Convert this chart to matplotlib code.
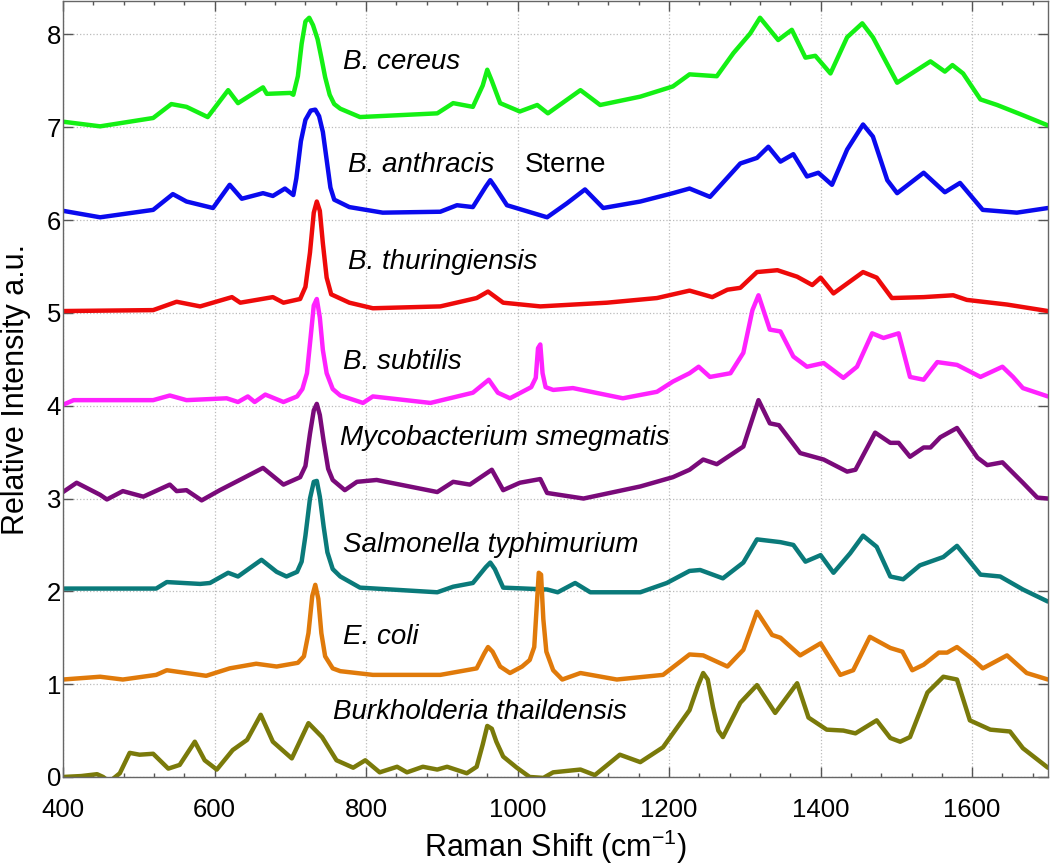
import matplotlib
matplotlib.use("Agg")
import matplotlib.pyplot as plt
from matplotlib.ticker import MultipleLocator

plt.rcParams['font.family'] = ['Liberation Sans', 'DejaVu Sans']
plt.rcParams['mathtext.fontset'] = 'custom'
plt.rcParams['mathtext.rm'] = 'Liberation Sans'
plt.rcParams['mathtext.it'] = 'Liberation Sans:italic'

# ---------------- data ----------------
cereus_x = [400, 449, 519, 543, 563, 591, 618, 631, 664, 669, 700, 704, 710, 715, 720, 725, 730, 736, 741,
            746, 752, 758, 766, 792, 894, 915, 941, 954, 960, 966, 977, 1003, 1026, 1040, 1083, 1109,
            1162, 1205, 1227, 1263, 1285, 1307, 1320, 1344, 1362, 1380, 1393, 1413, 1435, 1455, 1469,
            1501, 1545, 1564, 1574, 1588, 1611, 1633, 1667, 1700]
cereus_y = [7.06, 7.01, 7.10, 7.25, 7.22, 7.11, 7.40, 7.26, 7.43, 7.36, 7.37, 7.35, 7.55, 7.90, 8.14,
            8.18, 8.10, 7.95, 7.75, 7.54, 7.35, 7.25, 7.20, 7.11, 7.15, 7.26, 7.22, 7.45, 7.62, 7.50,
            7.26, 7.17, 7.24, 7.15, 7.40, 7.24, 7.33, 7.44, 7.57, 7.55, 7.80, 8.01, 8.18, 7.94, 8.05,
            7.75, 7.77, 7.58, 7.97, 8.12, 7.97, 7.48, 7.71, 7.60, 7.67, 7.58, 7.30, 7.24, 7.13, 7.02]

anthracis_x = [400, 449, 519, 545, 563, 598, 620, 636, 664, 677, 693, 704, 708, 714, 720, 727, 733, 738,
               743, 748, 753, 758, 778, 822, 898, 920, 941, 958, 964, 970, 986, 1039, 1065, 1089, 1113,
               1162, 1205, 1227, 1254, 1294, 1316, 1331, 1347, 1364, 1382, 1397, 1415, 1435, 1456, 1469,
               1488, 1501, 1536, 1564, 1584, 1614, 1659, 1700]
anthracis_y = [6.10, 6.03, 6.11, 6.28, 6.20, 6.13, 6.38, 6.23, 6.29, 6.26, 6.34, 6.27, 6.45, 6.85, 7.08,
               7.18, 7.19, 7.12, 6.95, 6.65, 6.35, 6.22, 6.14, 6.08, 6.09, 6.16, 6.14, 6.36, 6.43, 6.36,
               6.16, 6.03, 6.18, 6.33, 6.13, 6.20, 6.29, 6.34, 6.25, 6.61, 6.67, 6.79, 6.63, 6.71, 6.47,
               6.51, 6.38, 6.76, 7.03, 6.90, 6.43, 6.29, 6.51, 6.30, 6.40, 6.11, 6.08, 6.13]

thur_x = [400, 519, 550, 581, 623, 634, 677, 691, 713, 720, 726, 731, 735, 739, 743, 748, 754, 778, 809,
          898, 946, 961, 981, 1030, 1118, 1184, 1227, 1257, 1277, 1294, 1316, 1343, 1369, 1389, 1400,
          1417, 1456, 1474, 1494, 1536, 1575, 1593, 1646, 1700]
thur_y = [5.02, 5.03, 5.12, 5.07, 5.17, 5.11, 5.17, 5.11, 5.15, 5.28, 5.65, 6.08, 6.20, 6.10, 5.75, 5.38,
          5.20, 5.11, 5.05, 5.07, 5.16, 5.23, 5.11, 5.07, 5.11, 5.16, 5.24, 5.17, 5.25, 5.27, 5.44, 5.46,
          5.39, 5.30, 5.38, 5.21, 5.44, 5.38, 5.16, 5.17, 5.19, 5.14, 5.09, 5.02]

subtilis_x = [400, 414, 519, 541, 563, 616, 631, 644, 653, 667, 691, 709, 716, 722, 727, 731, 735, 739,
              743, 748, 756, 766, 796, 809, 885, 941, 962, 974, 990, 1018, 1024, 1027, 1030, 1033, 1037,
              1047, 1073, 1139, 1184, 1205, 1227, 1239, 1254, 1281, 1298, 1310, 1318, 1333, 1347, 1364,
              1382, 1404, 1430, 1448, 1468, 1483, 1503, 1518, 1536, 1554, 1580, 1611, 1640, 1654, 1667,
              1700]
subtilis_y = [4.01, 4.06, 4.06, 4.11, 4.06, 4.08, 4.04, 4.10, 4.04, 4.12, 4.04, 4.10, 4.18, 4.35, 4.75,
              5.08, 5.15, 4.95, 4.60, 4.35, 4.18, 4.11, 4.03, 4.10, 4.03, 4.14, 4.28, 4.14, 4.08, 4.20,
              4.30, 4.62, 4.66, 4.35, 4.20, 4.17, 4.19, 4.08, 4.15, 4.26, 4.35, 4.42, 4.31, 4.35, 4.57,
              5.03, 5.19, 4.82, 4.80, 4.53, 4.42, 4.46, 4.30, 4.42, 4.78, 4.73, 4.78, 4.31, 4.28, 4.47,
              4.44, 4.31, 4.42, 4.31, 4.19, 4.10]

smeg_x = [400, 418, 449, 458, 479, 506, 541, 550, 563, 583, 607, 638, 664, 691, 713, 720, 726, 731, 735,
          739, 744, 750, 756, 772, 788, 814, 894, 915, 937, 966, 981, 1003, 1030, 1039, 1087, 1162, 1205,
          1227, 1245, 1263, 1298, 1318, 1333, 1345, 1373, 1404, 1435, 1446, 1472, 1492, 1503, 1518, 1536,
          1545, 1558, 1580, 1607, 1620, 1640, 1667, 1686, 1700]
smeg_y = [3.07, 3.17, 3.04, 2.99, 3.08, 3.02, 3.15, 3.08, 3.09, 2.98, 3.09, 3.22, 3.33, 3.15, 3.23, 3.35,
          3.70, 3.95, 4.02, 3.90, 3.62, 3.32, 3.20, 3.09, 3.18, 3.20, 3.07, 3.18, 3.15, 3.31, 3.09, 3.17,
          3.21, 3.06, 3.00, 3.13, 3.23, 3.31, 3.42, 3.37, 3.56, 4.06, 3.81, 3.79, 3.49, 3.42, 3.29, 3.31,
          3.71, 3.60, 3.60, 3.45, 3.55, 3.55, 3.66, 3.76, 3.44, 3.36, 3.39, 3.17, 3.01, 3.00]

salm_x = [400, 449, 523, 537, 581, 594, 618, 631, 662, 682, 695, 709, 715, 720, 726, 731, 735, 739, 744,
          749, 756, 766, 792, 894, 915, 941, 958, 964, 970, 981, 1039, 1053, 1076, 1096, 1162, 1197,
          1227, 1241, 1271, 1298, 1316, 1347, 1364, 1380, 1400, 1417, 1439, 1456, 1474, 1492, 1509, 1531,
          1562, 1580, 1611, 1637, 1667, 1700]
salm_y = [2.03, 2.03, 2.03, 2.10, 2.08, 2.09, 2.20, 2.16, 2.34, 2.21, 2.16, 2.21, 2.32, 2.60, 3.00, 3.18,
          3.19, 3.02, 2.70, 2.42, 2.24, 2.16, 2.04, 1.99, 2.05, 2.09, 2.26, 2.31, 2.24, 2.04, 2.02, 1.99,
          2.09, 1.99, 1.99, 2.09, 2.22, 2.23, 2.14, 2.31, 2.56, 2.53, 2.50, 2.32, 2.39, 2.20, 2.41, 2.60,
          2.48, 2.16, 2.13, 2.28, 2.37, 2.49, 2.18, 2.16, 2.02, 1.89]

ecoli_x = [400, 449, 479, 523, 537, 563, 589, 620, 655, 682, 710, 718, 724, 729, 733, 737, 741, 746, 756,
           766, 809, 898, 946, 956, 961, 967, 977, 990, 1006, 1016, 1022, 1025, 1028, 1031, 1034, 1038,
           1047, 1059, 1083, 1131, 1192, 1227, 1245, 1277, 1298, 1316, 1336, 1347, 1373, 1400, 1426,
           1443, 1465, 1492, 1508, 1521, 1536, 1556, 1567, 1580, 1602, 1614, 1646, 1672, 1700]
ecoli_y = [1.05, 1.08, 1.05, 1.10, 1.15, 1.12, 1.09, 1.17, 1.22, 1.19, 1.23, 1.30, 1.55, 1.95, 2.07,
           1.92, 1.55, 1.30, 1.17, 1.14, 1.10, 1.10, 1.17, 1.33, 1.40, 1.35, 1.19, 1.12, 1.19, 1.26,
           1.40, 1.80, 2.20, 2.18, 1.70, 1.35, 1.15, 1.05, 1.12, 1.05, 1.10, 1.32, 1.31, 1.19, 1.37,
           1.78, 1.53, 1.50, 1.31, 1.44, 1.10, 1.15, 1.51, 1.39, 1.35, 1.15, 1.21, 1.34, 1.34, 1.40,
           1.26, 1.17, 1.31, 1.12, 1.05]

burk_x = [400, 424, 445, 453, 461, 469, 475, 488, 501, 519, 539, 554, 574, 587, 603, 624, 643, 661, 677,
          702, 724, 742, 761, 783, 799, 818, 841, 854, 875, 894, 907, 933, 946, 954, 960, 966, 972, 981,
          999, 1016, 1034, 1047, 1083, 1102, 1135, 1162, 1192, 1227, 1238, 1245, 1251, 1258, 1265, 1271,
          1294, 1316, 1340, 1369, 1384, 1408, 1430, 1446, 1474, 1492, 1505, 1518, 1541, 1562, 1580, 1597,
          1624, 1650, 1667, 1700]
burk_y = [0.00, 0.01, 0.03, 0.00, -0.05, 0.00, 0.04, 0.26, 0.24, 0.25, 0.09, 0.13, 0.38, 0.18, 0.08, 0.29,
          0.40, 0.67, 0.38, 0.20, 0.58, 0.43, 0.18, 0.10, 0.18, 0.05, 0.11, 0.05, 0.11, 0.08, 0.11, 0.04,
          0.11, 0.35, 0.55, 0.52, 0.38, 0.22, 0.10, 0.00, -0.01, 0.05, 0.08, 0.02, 0.24, 0.16, 0.32, 0.72,
          0.98, 1.12, 1.05, 0.75, 0.50, 0.43, 0.80, 0.99, 0.69, 1.01, 0.64, 0.51, 0.50, 0.47, 0.61, 0.42,
          0.38, 0.43, 0.91, 1.08, 1.05, 0.61, 0.51, 0.49, 0.31, 0.10]

series_x = [cereus_x, anthracis_x, thur_x, subtilis_x, smeg_x, salm_x, ecoli_x, burk_x]
series_y = [cereus_y, anthracis_y, thur_y, subtilis_y, smeg_y, salm_y, ecoli_y, burk_y]
colors = ['#14f014', '#0a0aee', '#ee0a0a', '#ff22ff', '#7a0a7a', '#0a7a7a', '#e07a0a', '#7a7a0a']

label_x = [770, 776, 776, 769, 766, 769, 769, 756]
label_y = [7.70, 6.59, 5.55, 4.47, 3.65, 2.50, 1.51, 0.70]
label_text = ['B. cereus', 'B. anthracis', 'B. thuringiensis', 'B. subtilis',
              'Mycobacterium smegmatis', 'Salmonella typhimurium', 'E. coli',
              'Burkholderia thaildensis']
extra_label = 'Sterne'
extra_x, extra_y = 1010, 6.59

x_ticks = [400, 600, 800, 1000, 1200, 1400, 1600]
y_ticks = [0, 1, 2, 3, 4, 5, 6, 7, 8]

# ---------------- figure ----------------
fig = plt.figure(figsize=(10.5, 8.66), dpi=100)
ax = fig.add_axes([0.060, 0.1028, 0.938, 0.896])

for xs, ys, c in zip(series_x, series_y, colors):
    ax.plot(xs, ys, color=c, lw=3.2, solid_joinstyle='round', solid_capstyle='round')

for tx, ty, t in zip(label_x, label_y, label_text):
    ax.text(tx, ty, t, fontsize=20, style='italic', va='center', ha='left')
ax.text(extra_x, extra_y, extra_label, fontsize=20, va='center', ha='left')

ax.set_xlim(400, 1700)
ax.set_ylim(0, 8.36)
ax.set_xticks(x_ticks)
ax.set_yticks(y_ticks)
ax.xaxis.set_minor_locator(MultipleLocator(40))
ax.tick_params(which='both', direction='in', top=True, right=True, labelsize=18.5,
               color='#555555')
ax.tick_params(which='major', length=7, width=1)
ax.tick_params(which='minor', length=3, width=1)
ax.tick_params(axis='x', which='major', pad=15)
ax.tick_params(axis='y', which='major', pad=1.5)
ax.grid(True, which='major', linestyle=':', color='#bbbbbb', lw=0.9)
for s in ax.spines.values():
    s.set_color('#666666')
    s.set_linewidth(1.0)

ax.set_xlabel('Raman Shift (cm$^{-1}$)', fontsize=22, labelpad=4)
ax.set_ylabel('Relative Intensity a.u.', fontsize=22, labelpad=11)

fig.savefig('out.png', dpi=100)
